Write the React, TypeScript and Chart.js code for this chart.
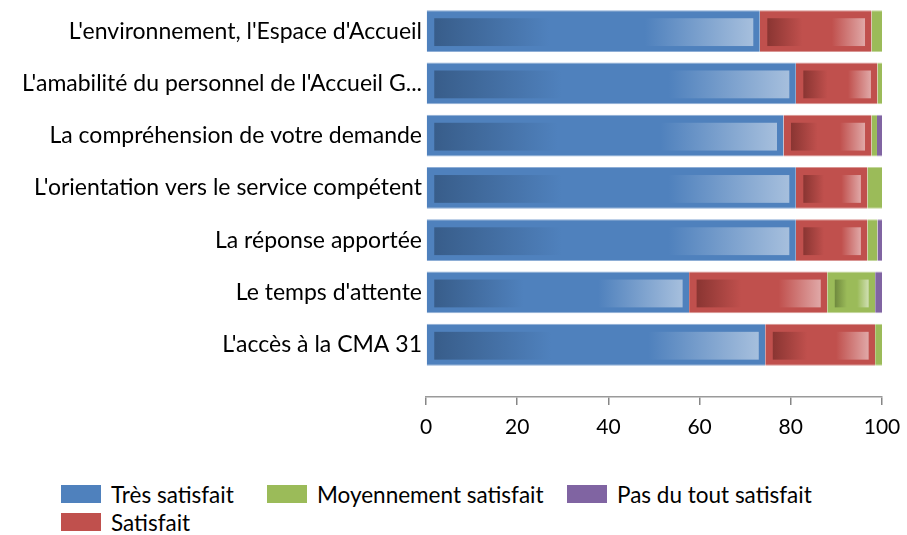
import { useEffect, useRef } from 'react';
import { Chart, registerables } from 'chart.js';

Chart.register(...registerables);

const categories = [
  "L'environnement, l'Espace d'Accueil",
  "L'amabilité du personnel de l'Accueil G...",
  'La compréhension de votre demande',
  "L'orientation vers le service compétent",
  'La réponse apportée',
  "Le temps d'attente",
  "L'accès à la CMA 31",
];

const seriesNames = ['Très satisfait', 'Satisfait', 'Moyennement satisfait', 'Pas du tout satisfait'];
const tresSatisfait = [73.2, 81.1, 78.4, 81.1, 81.1, 57.7, 74.4];
const satisfait = [24.5, 17.9, 19.3, 15.7, 15.7, 30.3, 24.1];
const moyennementSatisfait = [2.3, 1.0, 1.2, 3.2, 2.2, 10.5, 1.5];
const pasDuToutSatisfait = [0, 0, 1.1, 0, 1.0, 1.5, 0];
const seriesValues = [tresSatisfait, satisfait, moyennementSatisfait, pasDuToutSatisfait];

const xMin = 0;
const xMax = 100;
const xStep = 20;

const palette = [
  { base: '#4f81bd', dark: '#385d8a', light: '#a6bfdd', edge: '#8eaed6' },
  { base: '#c0504d', dark: '#8a3532', light: '#e0a8a7', edge: '#d99593' },
  { base: '#9bbb59', dark: '#6f893e', light: '#d0dfb3', edge: '#c3d69b' },
  { base: '#8064a2', dark: '#5c4776', light: '#c0b2d1', edge: '#b3a2c7' },
];

const legendOrder = [0, 2, 3, 1];
const FONT = 'Lato, "Open Sans", sans-serif';

const innerGradient = {
  id: 'innerGradient',
  afterDatasetsDraw(chart: any) {
    const ctx = chart.ctx;
    chart.data.datasets.forEach((_: any, di: number) => {
      const meta = chart.getDatasetMeta(di);
      if (meta.hidden) return;
      const pal = palette[di];
      meta.data.forEach((el: any) => {
        const { x, y, base, height } = el.getProps(['x', 'y', 'base', 'height'], true);
        const left = Math.min(x, base);
        const right = Math.max(x, base);
        const top = y - height / 2;
        const bottom = y + height / 2;
        const il = left + 7.5;
        const ir = right - 6.5;
        const it = top + 8;
        const ib = bottom - 6;
        if (ir - il < 14) return;
        const g = ctx.createLinearGradient(il, 0, ir, 0);
        g.addColorStop(0, pal.dark);
        g.addColorStop(0.36, pal.base);
        g.addColorStop(0.66, pal.base);
        g.addColorStop(1, pal.light);
        ctx.save();
        ctx.fillStyle = g;
        ctx.fillRect(il, it, ir - il, ib - it);
        ctx.restore();
      });
    });
  },
};

export default function App() {
  const ref = useRef<HTMLCanvasElement | null>(null);

  useEffect(() => {
    if (!ref.current) return;
    const chart = new Chart(ref.current, {
      type: 'bar',
      data: {
        datasets: seriesNames.map((name, i) => ({
          label: name,
          data: seriesValues[i].map((v, j) => ({ x: v, y: j })),
          backgroundColor: palette[i].base,
          borderColor: palette[i].edge,
          borderWidth: { top: 1, bottom: 1, left: 0, right: 0 },
          borderSkipped: false,
          barPercentage: 0.8,
          categoryPercentage: 1,
        })),
      },
      options: {
        indexAxis: 'y',
        animation: false,
        responsive: false,
        maintainAspectRatio: false,
        layout: { padding: { top: 5, right: 25, left: 0, bottom: 0 } },
        plugins: {
          legend: { display: false },
          tooltip: { enabled: false },
        },
        scales: {
          x: {
            type: 'linear',
            stacked: true,
            min: xMin,
            max: xMax,
            ticks: {
              stepSize: xStep,
              color: '#000',
              font: { family: FONT, size: 21 },
              padding: 10,
            },
            grid: { drawOnChartArea: false, tickLength: 8, color: '#868686', lineWidth: 1.5 },
            border: { color: '#9a9a9a', width: 1.5 },
            afterFit: (s: any) => {
              s.height = 45;
              s.paddingLeft = 0;
              s.paddingRight = 0;
            },
          },
          y: {
            type: 'linear',
            stacked: true,
            reverse: true,
            offset: false,
            min: -0.5,
            max: 7,
            bounds: 'data',
            afterBuildTicks: (s: any) => {
              s.ticks = categories.map((_, i) => ({ value: i }));
              s.min = -0.5;
              s.max = 7;
            },
            ticks: {
              autoSkip: false,
              callback: (v: any) => categories[v as number] ?? '',
              color: '#000',
              font: { family: FONT, size: 23 },
              padding: 4,
            },
            grid: { display: false, drawTicks: false, offset: false },
            border: { display: false },
            afterFit: (s: any) => {
              s.width = 426;
              s.paddingTop = 0;
              s.paddingBottom = 0;
            },
          },
        },
      } as any,
      plugins: [innerGradient],
    });
    return () => chart.destroy();
  }, []);

  return (
    <div style={{ position: 'absolute', left: 0, top: 0, width: 907, height: 535, background: '#fff', fontFamily: FONT }}>
      <canvas ref={ref} width={907} height={442} style={{ position: 'absolute', left: 0, top: 0 }} />
      <div
        style={{
          position: 'absolute',
          left: 61,
          top: 480,
          display: 'grid',
          gridTemplateColumns: '206px 300px auto',
          gridAutoRows: '28px',
          justifyContent: 'start',
        }}
      >
        {legendOrder.map((i) => (
          <div key={i} style={{ display: 'flex', alignItems: 'center', gap: 10, fontSize: 22.5, color: '#000', whiteSpace: 'nowrap' }}>
            <span style={{ display: 'inline-block', width: 40, height: 18, background: palette[i].base }} />
            <span>{seriesNames[i]}</span>
          </div>
        ))}
      </div>
    </div>
  );
}
